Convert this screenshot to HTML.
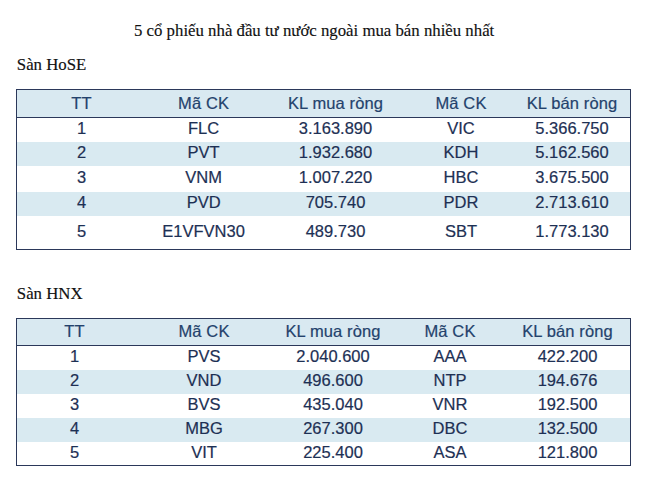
<!DOCTYPE html>
<html><head><meta charset="utf-8"><style>
html,body{margin:0;padding:0;background:#fff;width:654px;height:485px;overflow:hidden;position:relative}
div{position:absolute}
.t{position:absolute;width:200px;text-align:center;font-family:"Liberation Sans",sans-serif;font-size:16.5px;line-height:normal;color:#1d3054;white-space:nowrap;-webkit-text-stroke:0.2px #1d3054}
.h{color:#24426c;-webkit-text-stroke:0.2px #24426c;letter-spacing:0.12px}
.s{position:absolute;font-family:"Liberation Serif",serif;font-size:16.8px;line-height:normal;color:#111;white-space:nowrap;-webkit-text-stroke:0.15px #111}
</style></head><body>
<span class="s" style="left:134px;top:21.03px">5 cổ phiếu nhà đầu tư nước ngoài mua bán nhiều nhất</span>
<span class="s" style="left:16.8px;top:55.03px">Sàn HoSE</span>
<span class="s" style="left:16.8px;top:284.03px">Sàn HNX</span>
<div style="left:16px;top:89px;width:615px;height:29px;background:#d9e9f1"></div>
<div style="left:16px;top:142px;width:615px;height:24px;background:#d9eaf1"></div>
<div style="left:16px;top:192px;width:615px;height:24px;background:#d9eaf1"></div>
<div style="left:16px;top:89px;width:615px;height:1px;background:#2b385a"></div>
<div style="left:16px;top:117px;width:615px;height:1px;background:#2b385a"></div>
<div style="left:16px;top:249px;width:615px;height:1px;background:#2b385a"></div>
<div style="left:16px;top:89px;width:1px;height:161px;background:#2b385a"></div>
<div style="left:630px;top:89px;width:1px;height:161px;background:#2b385a"></div>
<span class="t h" style="left:-18.5px;top:94.07px">TT</span>
<span class="t h" style="left:103.6px;top:94.07px">Mã CK</span>
<span class="t h" style="left:235.5px;top:94.07px">KL mua ròng</span>
<span class="t h" style="left:361px;top:94.07px">Mã CK</span>
<span class="t h" style="left:472px;top:94.07px">KL bán ròng</span>
<span class="t" style="left:-18.5px;top:119.07px">1</span>
<span class="t" style="left:103.6px;top:119.07px">FLC</span>
<span class="t" style="left:235.5px;top:119.07px">3.163.890</span>
<span class="t" style="left:361px;top:119.07px">VIC</span>
<span class="t" style="left:472px;top:119.07px">5.366.750</span>
<span class="t" style="left:-18.5px;top:143.07px">2</span>
<span class="t" style="left:103.6px;top:143.07px">PVT</span>
<span class="t" style="left:235.5px;top:143.07px">1.932.680</span>
<span class="t" style="left:361px;top:143.07px">KDH</span>
<span class="t" style="left:472px;top:143.07px">5.162.560</span>
<span class="t" style="left:-18.5px;top:168.07px">3</span>
<span class="t" style="left:103.6px;top:168.07px">VNM</span>
<span class="t" style="left:235.5px;top:168.07px">1.007.220</span>
<span class="t" style="left:361px;top:168.07px">HBC</span>
<span class="t" style="left:472px;top:168.07px">3.675.500</span>
<span class="t" style="left:-18.5px;top:193.07px">4</span>
<span class="t" style="left:103.6px;top:193.07px">PVD</span>
<span class="t" style="left:235.5px;top:193.07px">705.740</span>
<span class="t" style="left:361px;top:193.07px">PDR</span>
<span class="t" style="left:472px;top:193.07px">2.713.610</span>
<span class="t" style="left:-18.5px;top:222.07px">5</span>
<span class="t" style="left:103.6px;top:222.07px">E1VFVN30</span>
<span class="t" style="left:235.5px;top:222.07px">489.730</span>
<span class="t" style="left:361px;top:222.07px">SBT</span>
<span class="t" style="left:472px;top:222.07px">1.773.130</span>
<div style="left:16px;top:318px;width:615px;height:28px;background:#d9e9f1"></div>
<div style="left:16px;top:370px;width:615px;height:24px;background:#d9eaf1"></div>
<div style="left:16px;top:418px;width:615px;height:24px;background:#d9eaf1"></div>
<div style="left:16px;top:318px;width:615px;height:1px;background:#2b385a"></div>
<div style="left:16px;top:345px;width:615px;height:1px;background:#2b385a"></div>
<div style="left:16px;top:465px;width:615px;height:1px;background:#2b385a"></div>
<div style="left:16px;top:318px;width:1px;height:148px;background:#2b385a"></div>
<div style="left:630px;top:318px;width:1px;height:148px;background:#2b385a"></div>
<span class="t h" style="left:-25.5px;top:322.07px">TT</span>
<span class="t h" style="left:104px;top:322.07px">Mã CK</span>
<span class="t h" style="left:233px;top:322.07px">KL mua ròng</span>
<span class="t h" style="left:350px;top:322.07px">Mã CK</span>
<span class="t h" style="left:467.5px;top:322.07px">KL bán ròng</span>
<span class="t" style="left:-25.5px;top:347.07px">1</span>
<span class="t" style="left:104px;top:347.07px">PVS</span>
<span class="t" style="left:233px;top:347.07px">2.040.600</span>
<span class="t" style="left:350px;top:347.07px">AAA</span>
<span class="t" style="left:467.5px;top:347.07px">422.200</span>
<span class="t" style="left:-25.5px;top:371.07px">2</span>
<span class="t" style="left:104px;top:371.07px">VND</span>
<span class="t" style="left:233px;top:371.07px">496.600</span>
<span class="t" style="left:350px;top:371.07px">NTP</span>
<span class="t" style="left:467.5px;top:371.07px">194.676</span>
<span class="t" style="left:-25.5px;top:395.07px">3</span>
<span class="t" style="left:104px;top:395.07px">BVS</span>
<span class="t" style="left:233px;top:395.07px">435.040</span>
<span class="t" style="left:350px;top:395.07px">VNR</span>
<span class="t" style="left:467.5px;top:395.07px">192.500</span>
<span class="t" style="left:-25.5px;top:419.07px">4</span>
<span class="t" style="left:104px;top:419.07px">MBG</span>
<span class="t" style="left:233px;top:419.07px">267.300</span>
<span class="t" style="left:350px;top:419.07px">DBC</span>
<span class="t" style="left:467.5px;top:419.07px">132.500</span>
<span class="t" style="left:-25.5px;top:443.07px">5</span>
<span class="t" style="left:104px;top:443.07px">VIT</span>
<span class="t" style="left:233px;top:443.07px">225.400</span>
<span class="t" style="left:350px;top:443.07px">ASA</span>
<span class="t" style="left:467.5px;top:443.07px">121.800</span>
</body></html>
